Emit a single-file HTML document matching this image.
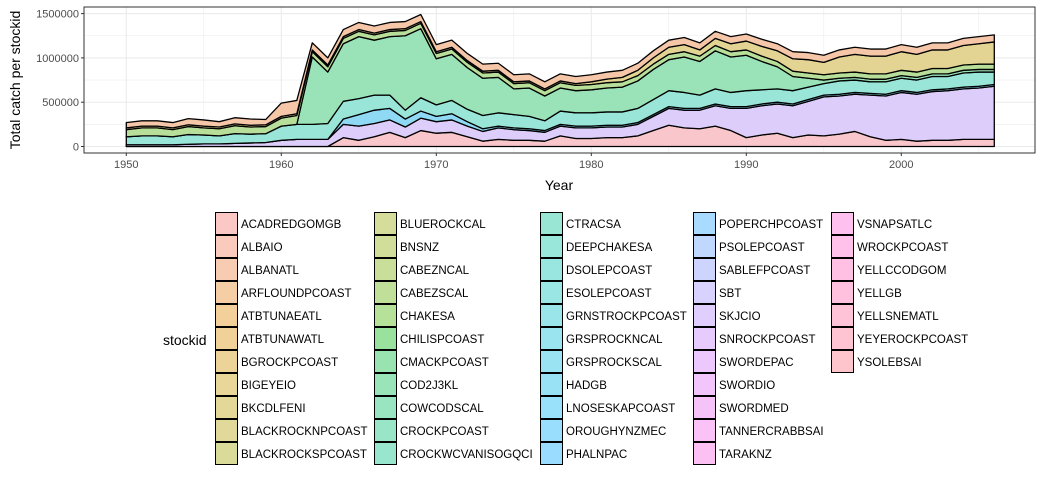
<!DOCTYPE html>
<html><head><meta charset="utf-8"><style>
body{margin:0;background:#fff;font-family:"Liberation Sans",sans-serif;}
svg text{font-family:"Liberation Sans",sans-serif;}
</style></head><body>
<svg id="chart" width="1056" height="480"></svg>
<script>
const years=[];for(let y=1950;y<=2006;y++)years.push(y);
const seriesNames=["pink-group","lavender-group","blue-group","teal-group","green-group","lightgreen-group","khaki-group","peach-group"];
const seriesColors=["#f9c6cb","#dccdfa","#8fd9f5","#99e6d8","#9ae3b8","#b8df99","#e3d494","#f6c6a9"];
const pinkVals=[0,0,0,0,0,0,0,0,0,0,0,0,0,0,100,70,110,160,100,180,150,160,110,60,80,70,70,60,120,90,90,100,100,120,180,240,210,200,230,180,100,130,150,100,130,120,140,170,110,70,80,60,70,70,80,80,80];
const lavenderVals=[20,20,20,20,25,30,30,35,40,45,70,80,80,80,150,160,150,140,120,140,130,140,120,110,130,120,110,100,110,120,120,120,120,130,160,190,200,210,230,250,330,330,330,360,380,440,430,420,470,500,530,530,550,560,570,580,600];
const blueVals=[0,0,0,0,0,0,0,0,0,0,0,0,0,0,60,130,150,130,90,80,60,70,50,30,20,20,20,20,20,20,20,20,20,20,20,20,20,20,20,20,20,20,20,20,20,20,20,20,20,20,20,20,20,20,20,20,20];
const tealVals=[90,100,100,90,110,100,90,110,100,100,160,170,170,180,200,180,170,150,100,150,130,150,140,150,150,150,140,110,150,150,150,150,150,160,170,180,180,150,170,160,180,160,150,150,140,130,150,140,130,140,140,140,150,140,160,160,140];
const greenVals=[0,0,0,0,0,0,0,0,0,0,0,0,760,580,650,700,620,660,840,780,520,520,470,420,400,290,320,280,260,250,260,270,280,310,340,350,400,380,430,400,400,320,250,160,100,40,30,30,30,30,30,30,30,30,30,30,30];
const lightgreenVals=[80,90,90,80,90,80,80,90,80,80,90,100,60,60,60,60,60,60,60,60,60,60,60,60,60,60,60,60,60,60,60,60,60,60,60,60,60,60,60,60,60,60,60,60,60,60,60,60,60,60,60,60,60,60,60,60,60];
const khakiVals=[20,20,20,20,20,20,20,20,20,20,20,20,20,20,20,20,20,20,20,20,20,20,20,20,20,20,20,20,20,20,30,40,50,60,70,80,80,70,80,90,100,110,120,140,150,140,180,200,200,200,210,200,210,210,220,230,250];
const peachVals=[60,60,60,60,70,70,60,70,70,60,150,150,80,80,80,80,80,80,80,80,80,80,80,80,80,80,80,80,80,80,80,80,80,80,80,80,80,80,80,80,80,80,80,80,80,80,80,80,80,80,80,80,80,80,80,80,80];
const series=[pinkVals,lavenderVals,blueVals,tealVals,greenVals,lightgreenVals,khakiVals,peachVals];
const xTicks=[1950,1960,1970,1980,1990,2000];
const yTicks=[0,500000,1000000,1500000];
const yTickLabels=["0","500000","1000000","1500000"];
const legendNames=["ACADREDGOMGB","ALBAIO","ALBANATL","ARFLOUNDPCOAST","ATBTUNAEATL","ATBTUNAWATL","BGROCKPCOAST","BIGEYEIO","BKCDLFENI","BLACKROCKNPCOAST","BLACKROCKSPCOAST","BLUEROCKCAL","BNSNZ","CABEZNCAL","CABEZSCAL","CHAKESA","CHILISPCOAST","CMACKPCOAST","COD2J3KL","COWCODSCAL","CROCKPCOAST","CROCKWCVANISOGQCI","CTRACSA","DEEPCHAKESA","DSOLEPCOAST","ESOLEPCOAST","GRNSTROCKPCOAST","GRSPROCKNCAL","GRSPROCKSCAL","HADGB","LNOSESKAPCOAST","OROUGHYNZMEC","PHALNPAC","POPERCHPCOAST","PSOLEPCOAST","SABLEFPCOAST","SBT","SKJCIO","SNROCKPCOAST","SWORDEPAC","SWORDIO","SWORDMED","TANNERCRABBSAI","TARAKNZ","VSNAPSATLC","WROCKPCOAST","YELLCCODGOM","YELLGB","YELLSNEMATL","YEYEROCKPCOAST","YSOLEBSAI"];
const NS="http://www.w3.org/2000/svg";
const svg=document.getElementById('chart');
function el(t,a,p){const e=document.createElementNS(NS,t);for(const k in a)e.setAttribute(k,a[k]);(p||svg).appendChild(e);return e;}
function hcl(h,alpha){
  const L=65,C=100,hr=h*Math.PI/180,U=C*Math.cos(hr),V=C*Math.sin(hr);
  const Xn=95.047,Yn=100,Zn=108.883,den=Xn+15*Yn+3*Zn,un=4*Xn/den,vn=9*Yn/den;
  const Y=Math.pow((L+16)/116,3);
  const up=U/(13*L)+un,vp=V/(13*L)+vn;
  const X=Y*9*up/(4*vp),Z=Y*(12-3*up-20*vp)/(4*vp);
  const lin=[3.2406*X-1.5372*Y-0.4986*Z,-0.9689*X+1.8758*Y+0.0415*Z,0.0557*X-0.2040*Y+1.0570*Z];
  const c=lin.map(v=>{v=Math.max(0,Math.min(1,v));v=v<=0.0031308?12.92*v:1.055*Math.pow(v,1/2.4)-0.055;return Math.round((v*255)*alpha+255*(1-alpha));});
  return `rgb(${c[0]},${c[1]},${c[2]})`;
}
const PX0=84,PX1=1035,PY0=7,PY1=153;
const xs=y=>126.3+(y-1950)*15.5;
const ys=v=>146.5-v/500000*44.3;
const bg=el('rect',{x:PX0,y:PY0,width:PX1-PX0,height:PY1-PY0,fill:'#fff'});


for(let y=1945;y<=2010;y+=5){if(xs(y)<PX0||xs(y)>PX1)continue;el('line',{x1:xs(y),x2:xs(y),y1:PY0,y2:PY1,stroke:'#ebebeb','stroke-width':y%10?0.6:1.1});}
for(let v=-250000;v<=1750000;v+=250000){const yy=ys(v);if(yy<PY0||yy>PY1)continue;el('line',{x1:PX0,x2:PX1,y1:yy,y2:yy,stroke:'#ebebeb','stroke-width':v%500000?0.6:1.1});}
let base=years.map(()=>0);
series.forEach((s,si)=>{
  const top=base.map((b,i)=>b+s[i]*1000);
  let d='M'+years.map((y,i)=>xs(y)+','+ys(top[i])).join('L');
  for(let i=years.length-1;i>=0;i--)d+='L'+xs(years[i])+','+ys(base[i]);
  d+='Z';
  const p=el('path',{d:d,fill:seriesColors[si],stroke:'#000','stroke-width':1.3,'stroke-linejoin':'round'});
  
  
  base=top;
});
el('rect',{x:PX0,y:PY0,width:PX1-PX0,height:PY1-PY0,fill:'none',stroke:'#333','stroke-width':1});
xTicks.forEach(t=>{
  el('line',{x1:xs(t),x2:xs(t),y1:PY1,y2:PY1+3,stroke:'#333'});
  const tx=el('text',{x:xs(t),y:PY1+15,'text-anchor':'middle','font-size':11,fill:'#4d4d4d'});tx.textContent=t;
  
  
});
yTicks.forEach((t,i)=>{
  el('line',{x1:PX0-3,x2:PX0,y1:ys(t),y2:ys(t),stroke:'#333'});
  const tx=el('text',{x:PX0-5,y:ys(t)+4,'text-anchor':'end','font-size':11,fill:'#4d4d4d'});tx.textContent=yTickLabels[i];
  
  
});
const xt=el('text',{x:559,y:190,'text-anchor':'middle','font-size':14,fill:'#000'});xt.textContent='Year';


const yt=el('text',{x:20,y:80,'text-anchor':'middle','font-size':14,fill:'#000',transform:'rotate(-90 20 80)'});yt.textContent='Total catch per stockid';


const lt=el('text',{x:163,y:345,'font-size':14,fill:'#000'});lt.textContent='stockid';


const colX=[215,374,540,693,831];
legendNames.forEach((n,i)=>{
  const c=Math.floor(i/11),r=i%11;
  const x=colX[c],y=212+r*23;
  const h=15+i*360/legendNames.length;
  const g=el('g',{});
  
  
  el('rect',{x:x+0.5,y:y+0.5,width:22,height:22,fill:hcl(h,0.4),stroke:'#000','stroke-width':1},g);
  const t=el('text',{x:x+26,y:y+16,'font-size':11.5,fill:'#000'},g);t.textContent=n;
});
</script>
</body></html>
